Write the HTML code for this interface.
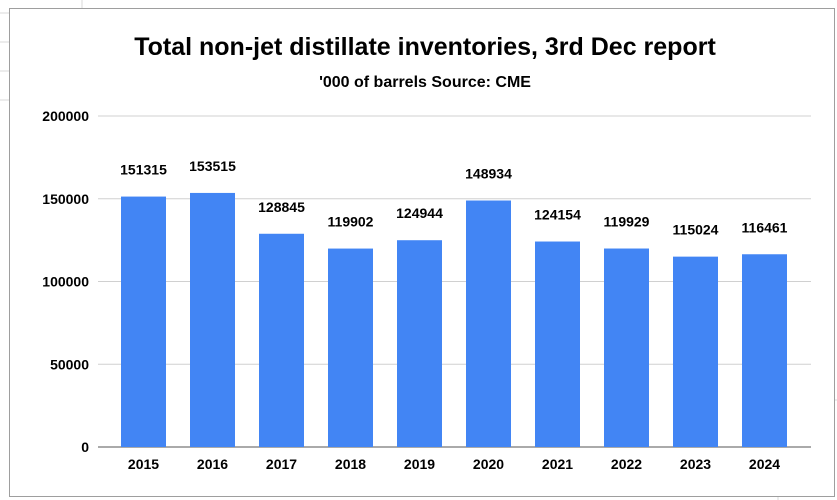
<!DOCTYPE html>
<html><head><meta charset="utf-8"><style>
body{margin:0;background:#fff;font-family:"Liberation Sans",Arial,sans-serif;}
svg{display:block}
</style></head><body>
<svg width="837" height="500">
<g stroke="#d9d9d9">
<line x1="0" y1="13" x2="9" y2="13"/><line x1="0" y1="42" x2="9" y2="42"/><line x1="0" y1="71" x2="9" y2="71"/><line x1="0" y1="100" x2="9" y2="100"/>
<line x1="82" y1="0" x2="82" y2="8"/><line x1="0" y1="100" x2="9" y2="100"/>
<line x1="778" y1="496" x2="778" y2="500"/><line x1="834" y1="400" x2="837" y2="400"/>
</g>
<rect x="9.5" y="8.5" width="825" height="488" fill="#fff" stroke="#9e9e9e"/>
<text x="425" y="55" text-anchor="middle" font-size="25" font-weight="bold" fill="#000">Total non-jet distillate inventories, 3rd Dec report</text>
<text x="425" y="87" text-anchor="middle" font-size="16" font-weight="bold" fill="#000">'000 of barrels   Source: CME</text>
<g id="grid"></g><g id="bars"></g>
</svg>
<script>
const categories=["2015","2016","2017","2018","2019","2020","2021","2022","2023","2024"];
const values=[151315,153515,128845,119902,124944,148934,124154,119929,115024,116461];
const yTicks=[0,50000,100000,150000,200000];
const ns="http://www.w3.org/2000/svg";
const y0=447,yTop=116,yMax=200000;
const y=v=>y0-(v/yMax)*(y0-yTop);
const step=69,x=i=>143.5+i*step,bw=45;
const grid=document.getElementById('grid'),bars=document.getElementById('bars');
function mk(t,a,p){const e=document.createElementNS(ns,t);for(const k in a)e.setAttribute(k,a[k]);p.appendChild(e);return e;}
yTicks.forEach(t=>{
 const l=mk('line',{x1:98,x2:811,y1:y(t),y2:y(t),stroke:t===0?'#555':'#d0d0d0'},grid);
 
 
 const tx=mk('text',{x:89,y:y(t)+5,'text-anchor':'end','font-size':14,'font-weight':'bold'},grid);
 tx.textContent=t;
 
 
});
categories.forEach((c,i)=>{
 const r=mk('rect',{x:x(i)-bw/2,y:y(values[i]),width:bw,height:y0-y(values[i]),fill:'#4285f4'},bars);
 
 
 const v=mk('text',{x:x(i),y:y(values[i])-22,'text-anchor':'middle','font-size':14,'font-weight':'bold'},bars);
 v.textContent=values[i];
 
 
 const t=mk('text',{x:x(i),y:469,'text-anchor':'middle','font-size':14,'font-weight':'bold'},bars);
 t.textContent=c;
 
 
});
</script>
</body></html>
